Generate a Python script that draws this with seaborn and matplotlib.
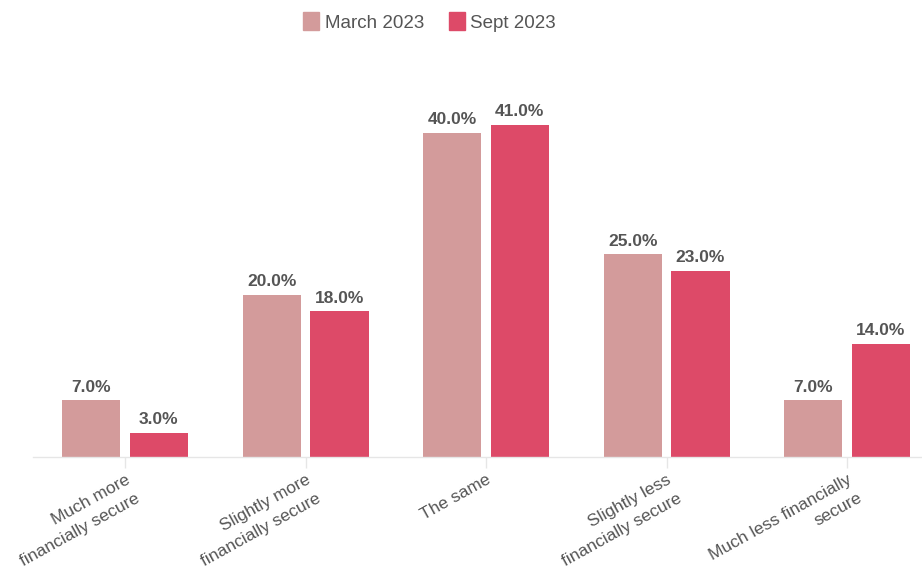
import matplotlib
matplotlib.use("Agg")
import matplotlib.pyplot as plt
import seaborn as sns
import pandas as pd

categories = [
    "Much more\nfinancially secure",
    "Slightly more\nfinancially secure",
    "The same",
    "Slightly less\nfinancially secure",
    "Much less financially\nsecure",
]
series_names = ["March 2023", "Sept 2023"]
march_values = [7.0, 20.0, 40.0, 25.0, 7.0]
sept_values = [3.0, 18.0, 41.0, 23.0, 14.0]
colors = ["#D39B9B", "#DD4A68"]

df = pd.DataFrame({
    "category": categories * 2,
    "period": [series_names[0]] * len(categories) + [series_names[1]] * len(categories),
    "value": march_values + sept_values,
})

sns.set_theme(style="white")
plt.rcParams["font.family"] = ["Liberation Sans", "DejaVu Sans"]

fig = plt.figure(figsize=(9.22, 5.72), dpi=100)
ax = fig.add_axes([33 / 922, 1 - 457 / 572, (922 - 33) / 922, (457 - 60) / 572])

sns.barplot(
    data=df, x="category", y="value", hue="period",
    order=categories, hue_order=series_names,
    palette=colors, width=0.75, gap=0.14, saturation=1,
    edgecolor="none", ax=ax, legend=False,
)

for container in ax.containers:
    labels = [f"{b.get_height():.1f}%" for b in container]
    ax.bar_label(container, labels=labels, padding=4, fontsize=12.5,
                 fontweight="bold", color="#555555")

ax.set_xlim(-0.51, 4.415)
ax.set_ylim(0, 49)
ax.set_xlabel("")
ax.set_ylabel("")
ax.set_yticks([])
for side in ["top", "right", "left"]:
    ax.spines[side].set_visible(False)
ax.spines["bottom"].set_color("#E6E6E6")
ax.spines["bottom"].set_linewidth(1)

ax.tick_params(axis="x", length=8, width=1, color="#E6E6E6", pad=3,
               labelsize=12.5, labelcolor="#555555", bottom=True)
for lbl in ax.get_xticklabels():
    lbl.set_rotation(29)
    lbl.set_ha("right")
    lbl.set_rotation_mode("anchor")
    lbl.set_multialignment("right")
    lbl.set_linespacing(1.5)

handles = [plt.Rectangle((0, 0), 1, 1, color=c) for c in colors]
fig.legend(handles, series_names, loc="upper center", bbox_to_anchor=(0.466, 1.008),
           ncol=2, frameon=False, fontsize=13.5, labelcolor="#555555",
           handlelength=0.85, handleheight=1.1, handletextpad=0.3, columnspacing=1.3)

fig.savefig("out.png", dpi=100)
